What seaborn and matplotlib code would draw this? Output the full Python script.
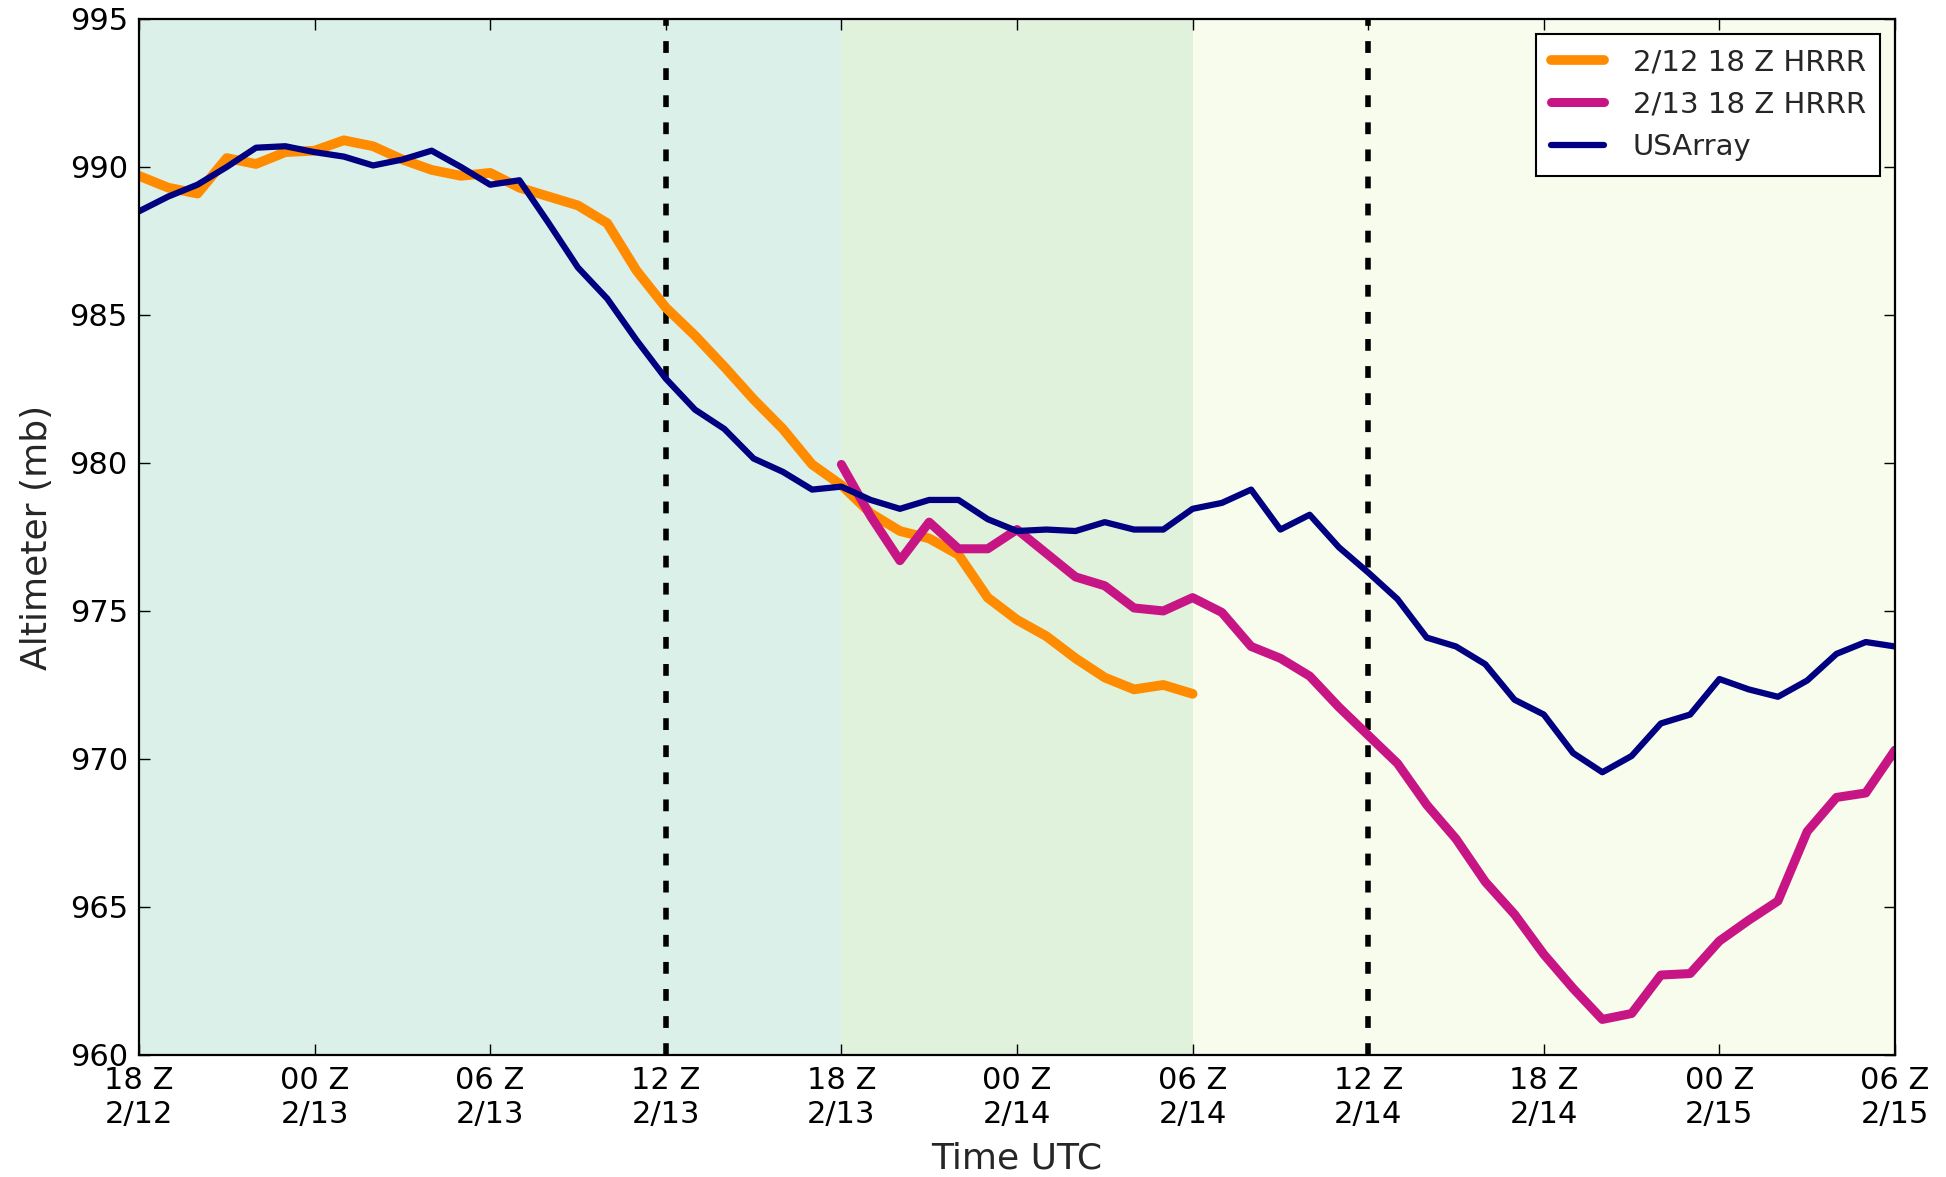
import matplotlib
matplotlib.use('Agg')
import matplotlib.pyplot as plt
import seaborn as sns
import numpy as np
import pandas as pd

# hours after 18 Z 2/12
hours_all = np.arange(0, 61)
hours_hrrr12 = np.arange(0, 37)
hours_hrrr13 = np.arange(24, 61)

usarray = [988.5, 989.0, 989.4, 990.0, 990.65, 990.7, 990.5, 990.35, 990.05, 990.25,
           990.55, 990.0, 989.4, 989.55, 988.1, 986.6, 985.55, 984.15, 982.85, 981.8,
           981.15, 980.15, 979.7, 979.1, 979.2, 978.75, 978.45, 978.75, 978.75, 978.1,
           977.7, 977.75, 977.7, 978.0, 977.75, 977.75, 978.45, 978.65, 979.1, 977.75,
           978.25, 977.15, 976.3, 975.4, 974.1, 973.8, 973.2, 972.0, 971.5, 970.2,
           969.55, 970.1, 971.2, 971.5, 972.7, 972.35, 972.1, 972.65, 973.55, 973.95,
           973.8]
hrrr_0212 = [989.7, 989.3, 989.1, 990.3, 990.1, 990.5, 990.55, 990.9, 990.7, 990.25,
             989.9, 989.7, 989.8, 989.3, 989.0, 988.7, 988.1, 986.5, 985.25, 984.3,
             983.25, 982.15, 981.15, 979.95, 979.25, 978.3, 977.7, 977.45, 976.9, 975.45,
             974.7, 974.15, 973.4, 972.75, 972.35, 972.5, 972.2]
hrrr_0213 = [979.95, 978.2, 976.7, 978.0, 977.1, 977.1, 977.75, 976.95, 976.15, 975.85,
             975.1, 975.0, 975.45, 974.95, 973.8, 973.4, 972.8, 971.75, 970.8, 969.85,
             968.45, 967.3, 965.85, 964.75, 963.4, 962.25, 961.2, 961.4, 962.7, 962.75,
             963.85, 964.55, 965.2, 967.55, 968.7, 968.85, 970.3]

xtick_pos = np.arange(0, 61, 6)
xtick_labels = ['18 Z\n2/12', '00 Z\n2/13', '06 Z\n2/13', '12 Z\n2/13', '18 Z\n2/13',
                '00 Z\n2/14', '06 Z\n2/14', '12 Z\n2/14', '18 Z\n2/14', '00 Z\n2/15',
                '06 Z\n2/15']
spans = [(0, 24, '#dcf0ea'), (24, 36, '#e0f1dc'), (36, 60, '#f8fcec')]
dash_lines = [18, 42]

sns.set_style('ticks')
plt.rcParams['font.family'] = ['DejaVu Sans']
plt.rcParams['lines.scale_dashes'] = False

fig, ax = plt.subplots(figsize=(19.46, 11.77), dpi=100)
fig.subplots_adjust(left=0.0714, right=0.9738, bottom=0.1037, top=0.9839)

# 背景色块
for x0, x1, c in spans:
    ax.axvspan(x0, x1, color=c, lw=0, zorder=0)
for xv in dash_lines:
    ax.axvline(xv, color='black', lw=4, linestyle=(0, (8.5, 11)), zorder=3)

sns.lineplot(x=hours_hrrr12, y=hrrr_0212, ax=ax, color='darkorange', lw=7,
             label='2/12 18 Z HRRR', zorder=4)
sns.lineplot(x=hours_hrrr13, y=hrrr_0213, ax=ax, color='mediumvioletred', lw=6.5,
             label='2/13 18 Z HRRR', zorder=4)
sns.lineplot(x=hours_all, y=usarray, ax=ax, color='navy', lw=4.5,
             label='USArray', zorder=5)

ax.set_xlim(0, 60)
ax.set_ylim(960, 995)
ax.set_xticks(xtick_pos)
ax.set_xticklabels(xtick_labels)
ax.set_yticks(np.arange(960, 996, 5))
ax.tick_params(axis='both', direction='in', length=8, width=1, labelsize=22,
               top=True, right=True, pad=8, colors='black')
for s in ax.spines.values():
    s.set_linewidth(1.6)
    s.set_color('black')
    s.set_zorder(6)

ax.set_xlabel('Time UTC', fontsize=26, labelpad=9)
ax.set_ylabel('Altimeter (mb)', fontsize=26, labelpad=11)

leg = ax.legend(loc='upper right', fontsize=21, fancybox=False, framealpha=1,
                edgecolor='black', handlelength=1.8, handletextpad=1.0,
                borderaxespad=0.5, labelspacing=0.5, borderpad=0.5)
leg.get_frame().set_linewidth(1.5)

fig.savefig('out.png', dpi=100)
plt.close(fig)
